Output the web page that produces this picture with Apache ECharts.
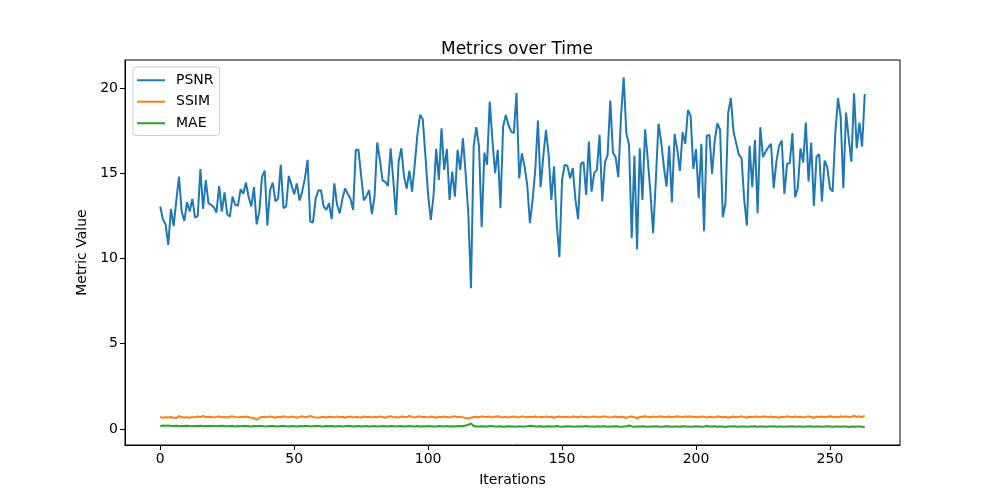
<!DOCTYPE html>
<html>
<head>
<meta charset="utf-8">
<script src="https://cdn.jsdelivr.net/npm/echarts@6/dist/echarts.min.js"></script>
<style>html,body{margin:0;padding:0;background:#fff}#c{width:1000px;height:500px}</style>
</head>
<body>
<div id="c"></div>
<script>
const seriesNames = ['PSNR', 'SSIM', 'MAE'];
const xTicks = [0, 50, 100, 150, 200, 250];
const yTicks = [0, 5, 10, 15, 20];

const psnr = [
13.05,12.3,12.0,10.8,12.9,11.9,13.4,14.8,12.75,12.2,
13.3,12.75,13.5,12.4,12.5,15.25,12.9,14.6,13.24,13.15,
13.0,12.7,14.25,12.75,13.87,12.6,12.45,13.63,13.15,13.1,
14.06,13.8,14.45,13.6,13.05,14.18,12.0,12.75,14.8,15.15,
11.93,14.0,14.45,13.35,13.5,15.5,12.95,13.05,14.84,14.3,
13.77,14.4,13.4,13.92,14.7,15.78,12.16,12.1,13.5,13.98,
14.0,13.05,12.85,13.24,12.3,14.4,13.15,12.65,13.5,14.1,
13.8,13.5,12.85,16.37,16.37,14.84,13.4,13.67,14.0,12.6,
13.63,16.8,15.8,14.57,14.5,14.26,16.46,14.6,12.55,15.7,
16.46,14.8,14.1,15.15,13.92,15.5,17.25,18.42,18.17,16.0,
13.73,12.26,13.63,16.43,14.6,17.64,15.19,16.43,13.43,15.1,
13.63,16.37,15.19,17.05,15.0,12.65,8.25,16.56,17.7,16.56,
11.83,16.2,15.5,19.2,16.95,15.0,16.37,12.95,17.74,18.42,
17.83,17.44,17.35,19.7,14.7,16.17,15.4,14.3,12.07,13.43,
15.19,18.09,14.18,15.98,17.54,16.07,13.43,15.4,12.07,10.07,
14.6,15.5,15.43,14.7,15.3,13.45,12.3,15.55,15.66,13.73,
16.86,13.92,15.0,15.19,17.25,13.34,15.62,16.07,19.26,16.21,
15.94,14.77,18.32,20.63,17.35,16.66,11.19,16.02,10.54,16.46,
13.43,17.58,15.78,13.83,11.48,14.6,17.9,16.86,15.39,14.22,
16.6,13.28,17.3,16.4,15.13,17.4,16.72,18.71,18.36,15.25,
16.41,13.53,16.72,11.6,17.2,17.25,14.96,16.95,17.93,17.54,
12.42,13.24,18.52,19.4,17.44,16.76,16.07,15.88,13.43,11.93,
16.6,14.18,16.95,12.65,17.7,15.94,16.27,16.52,16.72,14.12,
15.68,16.6,16.92,13.79,15.55,15.59,17.35,13.59,14.12,16.46,
15.62,17.97,14.51,16.8,13.08,15.98,16.11,13.34,15.74,15.35,
14.12,13.92,17.35,19.4,18.32,14.12,18.56,17.05,15.68,19.69,
16.46,17.97,16.56,19.65
];

const ssim = [
0.72,0.65,0.69,0.68,0.70,0.66,0.64,0.75,0.70,0.67,0.69,0.66,0.71,0.68,0.73,0.70,0.76,0.69,0.72,0.70,
0.68,0.71,0.73,0.69,0.70,0.67,0.72,0.74,0.70,0.68,0.71,0.69,0.73,0.70,0.66,0.64,0.55,0.66,0.70,0.72,
0.68,0.74,0.70,0.66,0.72,0.69,0.75,0.71,0.68,0.73,0.70,0.66,0.71,0.74,0.69,0.72,0.77,0.70,0.68,0.66,
0.69,0.71,0.67,0.72,0.70,0.68,0.74,0.69,0.72,0.66,0.70,0.73,0.68,0.71,0.69,0.67,0.73,0.70,0.72,0.68,
0.71,0.69,0.74,0.70,0.66,0.72,0.75,0.69,0.70,0.67,0.73,0.71,0.69,0.76,0.70,0.68,0.72,0.74,0.69,0.71,
0.68,0.73,0.70,0.66,0.71,0.69,0.73,0.70,0.67,0.72,0.74,0.69,0.71,0.68,0.64,0.62,0.66,0.70,0.72,0.69,
0.74,0.71,0.70,0.73,0.68,0.72,0.75,0.70,0.69,0.72,0.67,0.71,0.73,0.70,0.68,0.74,0.71,0.69,0.72,0.70,
0.73,0.68,0.71,0.69,0.74,0.70,0.72,0.66,0.71,0.73,0.69,0.72,0.70,0.68,0.73,0.71,0.69,0.74,0.70,0.72,
0.68,0.71,0.73,0.70,0.69,0.72,0.74,0.70,0.68,0.71,0.73,0.69,0.72,0.70,0.66,0.71,0.73,0.69,0.63,0.70,
0.72,0.74,0.71,0.69,0.73,0.70,0.72,0.74,0.70,0.71,0.73,0.69,0.72,0.75,0.71,0.70,0.73,0.72,0.74,0.70,
0.72,0.69,0.73,0.71,0.67,0.72,0.70,0.68,0.73,0.71,0.69,0.72,0.66,0.70,0.73,0.69,0.71,0.74,0.70,0.67,
0.72,0.70,0.73,0.71,0.69,0.74,0.72,0.70,0.73,0.69,0.71,0.66,0.72,0.70,0.74,0.71,0.69,0.73,0.70,0.72,
0.68,0.71,0.74,0.70,0.66,0.72,0.70,0.73,0.69,0.71,0.75,0.70,0.72,0.69,0.74,0.71,0.73,0.70,0.72,0.76,
0.71,0.74,0.69,0.79
];

const mae = [
0.18,0.20,0.19,0.21,0.18,0.17,0.19,0.16,0.18,0.17,0.19,0.17,0.16,0.18,0.17,0.19,0.16,0.18,0.17,0.18,
0.17,0.16,0.18,0.19,0.17,0.16,0.18,0.17,0.15,0.17,0.16,0.18,0.17,0.16,0.15,0.17,0.16,0.18,0.17,0.15,
0.16,0.18,0.17,0.16,0.15,0.17,0.18,0.16,0.15,0.17,0.16,0.15,0.17,0.16,0.18,0.17,0.15,0.16,0.17,0.18,
0.16,0.15,0.17,0.16,0.18,0.15,0.16,0.17,0.15,0.16,0.18,0.17,0.15,0.16,0.17,0.14,0.16,0.17,0.15,0.16,
0.17,0.15,0.16,0.18,0.16,0.15,0.17,0.16,0.14,0.16,0.17,0.15,0.16,0.18,0.16,0.15,0.17,0.14,0.16,0.15,
0.17,0.16,0.14,0.15,0.17,0.16,0.15,0.17,0.14,0.16,0.15,0.17,0.16,0.18,0.20,0.24,0.33,0.17,0.14,0.15,
0.16,0.14,0.15,0.17,0.16,0.14,0.15,0.16,0.13,0.15,0.16,0.14,0.15,0.13,0.16,0.15,0.14,0.16,0.19,0.17,
0.15,0.14,0.16,0.13,0.15,0.16,0.14,0.15,0.17,0.14,0.13,0.15,0.16,0.14,0.15,0.13,0.16,0.14,0.15,0.17,
0.14,0.15,0.13,0.16,0.14,0.15,0.16,0.13,0.15,0.14,0.16,0.15,0.13,0.14,0.16,0.20,0.15,0.13,0.14,0.15,
0.16,0.14,0.13,0.15,0.14,0.16,0.15,0.13,0.14,0.16,0.15,0.13,0.14,0.15,0.13,0.16,0.14,0.15,0.13,0.14,
0.16,0.15,0.13,0.14,0.17,0.15,0.14,0.16,0.13,0.15,0.14,0.12,0.14,0.15,0.16,0.14,0.13,0.15,0.14,0.13,
0.15,0.14,0.16,0.13,0.15,0.14,0.13,0.15,0.14,0.16,0.13,0.15,0.14,0.13,0.15,0.14,0.16,0.13,0.15,0.14,
0.13,0.15,0.14,0.16,0.13,0.14,0.15,0.13,0.14,0.16,0.15,0.13,0.14,0.15,0.13,0.14,0.15,0.12,0.14,0.13,
0.15,0.14,0.13,0.12
];

const colors = ['#1f77b4', '#ff7f0e', '#2ca02c'];
const font = 'DejaVu Sans';
const pairs = arr => arr.map((v, i) => [i, v]);

const chart = echarts.init(document.getElementById('c'), null, {renderer: 'canvas'});
chart.setOption({
  animation: false,
  backgroundColor: '#fff',
  color: colors,
  title: {
    text: 'Metrics over Time',
    left: 512, top: 36, textAlign: 'center',
    textStyle: {fontFamily: font, fontSize: 17, fontWeight: 'normal', color: '#000'}
  },
  legend: {
    data: seriesNames,
    orient: 'vertical',
    left: 133, top: 67,
    padding: [6, 6, 5, 4],
    itemGap: 7,
    itemWidth: 28, itemHeight: 2,
    icon: 'rect',
    borderColor: '#cccccc', borderWidth: 1, borderRadius: 3,
    backgroundColor: 'rgba(255,255,255,0.8)',
    textStyle: {fontFamily: font, fontSize: 14, color: '#000', lineHeight: 14.5, padding: [0, 0, 0, 6]}
  },
  grid: {left: 125, right: 100, top: 60, bottom: 55, show: true, borderColor: '#000', borderWidth: 1, containLabel: false},
  xAxis: {
    type: 'value', min: -13.15, max: 276.15,
    name: 'Iterations', nameLocation: 'middle', nameGap: 28,
    nameTextStyle: {fontFamily: font, fontSize: 14, color: '#000'},
    axisLine: {show: true, onZero: false, lineStyle: {color: '#000', width: 1}},
    axisTick: {show: true, customValues: xTicks, length: 5, lineStyle: {color: '#000'}},
    axisLabel: {customValues: xTicks, fontFamily: font, fontSize: 14, color: '#000', margin: 7},
    splitLine: {show: false}
  },
  yAxis: {
    type: 'value', min: -0.94, max: 21.64,
    name: 'Metric Value', nameLocation: 'middle', nameGap: 34,
    nameTextStyle: {fontFamily: font, fontSize: 14, color: '#000'},
    axisLine: {show: true, onZero: false, lineStyle: {color: '#000', width: 1}},
    axisTick: {show: true, customValues: yTicks, length: 5, lineStyle: {color: '#000'}},
    axisLabel: {customValues: yTicks, fontFamily: font, fontSize: 14, color: '#000', margin: 7},
    splitLine: {show: false}
  },
  series: [
    {name: seriesNames[0], type: 'line', data: pairs(psnr), showSymbol: false, symbol: 'none', lineStyle: {width: 2, color: colors[0]}},
    {name: seriesNames[1], type: 'line', data: pairs(ssim), showSymbol: false, symbol: 'none', lineStyle: {width: 2, color: colors[1]}},
    {name: seriesNames[2], type: 'line', data: pairs(mae), showSymbol: false, symbol: 'none', lineStyle: {width: 2, color: colors[2]}}
  ]
});
</script>
</body>
</html>
